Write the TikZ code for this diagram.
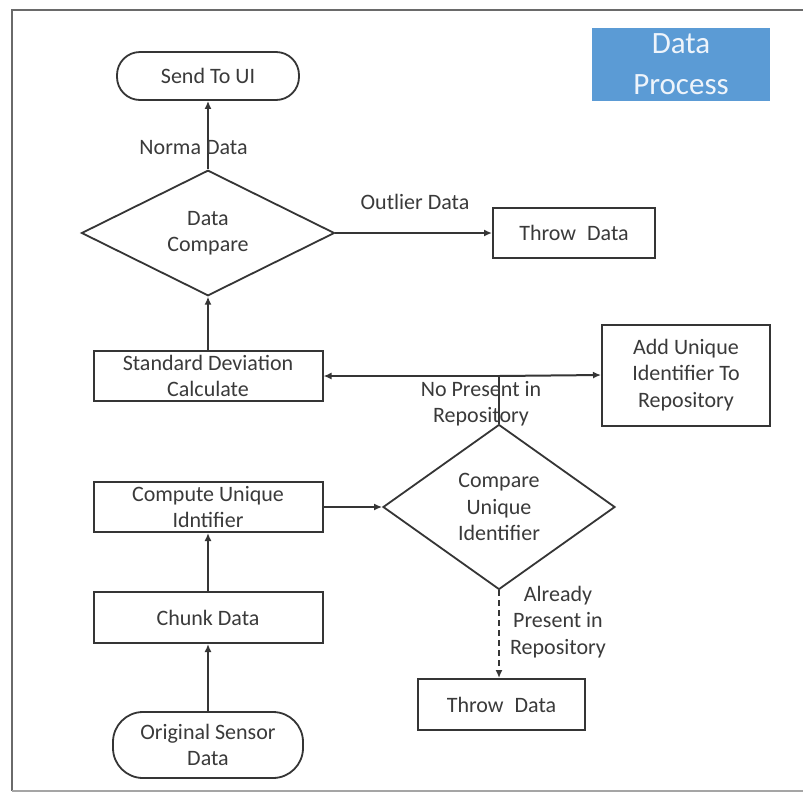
\documentclass[tikz,border=0pt]{standalone}
\usepackage{fontspec}
\setmainfont{Carlito}
\usetikzlibrary{arrows.meta,shapes.geometric,calc}
\definecolor{ink}{HTML}{353535}
\definecolor{txt}{HTML}{3A3A3A}
\definecolor{frame}{HTML}{6A6A6A}
\definecolor{boxblue}{HTML}{5B9BD5}
\definecolor{paletext}{HTML}{EEF4FB}
\begin{document}
\begin{tikzpicture}[x=1pt,y=-1pt,
  every node/.style={font=\fontsize{22}{26.5}\selectfont, text=txt, align=center, inner sep=0pt},
  procbox/.style={draw=ink, line width=2pt, rectangle},
  stadium/.style={draw=ink, line width=1.8pt, rectangle, rounded corners=23pt},
  decision/.style={draw=ink, line width=1.8pt, diamond},
  flow/.style={draw=ink, line width=2pt, -{Latex[length=8pt,width=7pt]}},
  lbl/.style={font=\fontsize{22}{26.5}\selectfont}
]
\useasboundingbox (0,0) rectangle (803,793);
\fill[white] (0,0) rectangle (803,793);

% page frame
\draw[frame, line width=2.2pt] (803,10) -- (12,10) -- (12,791);
\draw[frame!60, line width=1.5pt] (12,791) -- (803,791);

% title badge
\node[fill=boxblue, minimum width=178pt, minimum height=73pt,
      font=\fontsize{31}{41}\selectfont, text=paletext] (dp) at (681,64.5) {Data\\Process};

% upper flow
\node[stadium, minimum width=182pt, minimum height=48pt] (ui) at (208,76) {Send To UI};
\node[decision, minimum width=253pt, minimum height=125pt] (cmp) at (208,233) {Data\\Compare};
\node[procbox, minimum width=162pt, minimum height=50pt] (t1) at (574,233) {Throw\enspace Data};
\node[procbox, minimum width=229pt, minimum height=50pt] (sd) at (208,376) {Standard Deviation\\Calculate};
\node[procbox, minimum width=168pt, minimum height=101pt] (add) at (686,375) {Add Unique\\Identifier To\\Repository};

% lower flow
\node[decision, minimum width=232pt, minimum height=165pt] (cui) at (499,507) {Compare\\Unique\\Identifier};
\node[procbox, minimum width=229pt, minimum height=50pt] (comp) at (208,507) {Compute Unique\\Idntifier};
\node[procbox, minimum width=229pt, minimum height=51pt] (chunk) at (208,617.5) {Chunk Data};
\node[stadium, rounded corners=30pt, minimum width=190pt, minimum height=66pt] (orig) at (208,745) {Original Sensor\\Data};
\node[procbox, minimum width=167pt, minimum height=51pt] (t2) at (501.5,704.5) {Throw\enspace Data};

\coordinate (split) at (cui.north |- sd.east);

% connectors
\draw[flow] (cmp.north) -- (ui.south);
\node[lbl] (lnorm) at (193.5,148) {Norma Data};
\draw[flow] (cmp.east) -- (t1.west);
\node[lbl] (lout) at (415,202) {Outlier Data};
\draw[flow] (sd.north) -- (cmp.south);
\draw[ink, line width=2pt] (cui.north) -- (split);
\draw[flow] (split) -- (sd.east);
\draw[flow] (split) -- (add.west);
\node[lbl] (lno) at (481,403.5) {No Present in\\Repository};
\draw[flow] (comp.east) -- (cui.west);
\draw[flow] (chunk.north) -- (comp.south);
\draw[flow] (orig.north) -- (chunk.south);
\draw[flow, dashed, dash pattern=on 6pt off 4pt] (cui.south) -- (cui.south |- t2.north);
\node[lbl] (lalr) at (558,622) {Already\\Present in\\Repository};
\end{tikzpicture}
\end{document}
